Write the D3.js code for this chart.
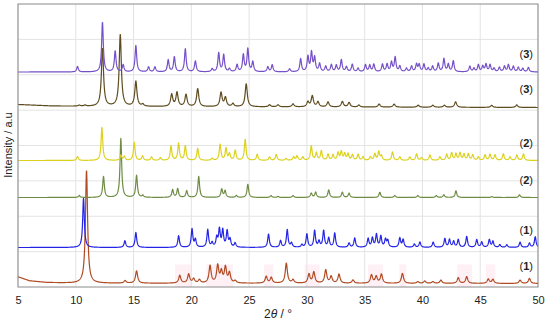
<!DOCTYPE html>
<html>
<head>
<meta charset="utf-8">
<script src="https://cdn.jsdelivr.net/npm/d3@7"></script>
<style>
  body { margin: 0; background: #fff; }
  text { font-family: "Liberation Sans", Arial, sans-serif; fill: #222; }
</style>
</head>
<body>
<div id="chart"></div>
<script>
// 2theta range and tick labels
var xTicks = [5, 10, 15, 20, 25, 30, 35, 40, 45, 50];
var yMax = 2830;   // arbitrary intensity units

// sample names, bottom to top
var names = ["1", "1", "2", "2", "3", "3"];
// vertical offset of each pattern (a.u.)
var offsets = [35, 395, 895, 1265, 1805, 2150];

// peak lists [2theta, intensity]
var peaks1exp = [[10.93,1130],[14.27,25],[15.26,123],[19.0,77],[19.77,90],[20.2,43],[20.7,33],[21.62,173],[22.28,173],[22.6,110],[22.95,156],[23.3,100],[23.8,23],[26.48,67],[26.92,57],[28.22,200],[28.8,33],[30.18,90],[30.6,110],[31.63,133],[32.1,67],[32.78,90],[33.99,33],[35.59,83],[36.0,67],[36.45,90],[38.27,100],[39.6,17],[40.2,23],[40.9,17],[41.6,33],[43.1,57],[43.83,67],[45.7,43],[46.1,40],[48.45,33],[49.26,50]];
var peaks1calc = [[10.67,495],[14.25,67],[15.2,150],[18.9,117],[20.06,183],[20.35,77],[21.42,177],[21.8,43],[22.2,93],[22.43,177],[22.72,167],[23.1,160],[23.35,77],[23.79,43],[26.68,133],[27.72,67],[28.3,177],[28.67,43],[29.57,27],[30.0,133],[30.67,167],[31.05,60],[31.45,167],[31.89,93],[32.41,143],[33.65,43],[34.14,93],[35.3,87],[35.67,93],[36.02,127],[36.4,110],[36.8,77],[37.0,67],[38.04,93],[38.33,77],[39.3,33],[39.78,53],[40.93,53],[41.94,87],[42.34,77],[42.7,60],[43.1,77],[43.83,110],[44.7,77],[45.13,53],[45.79,77],[46.1,60],[46.7,27],[47.3,27],[48.45,53],[49.26,43],[49.76,107]];
var peaks2exp = [[10.3,20],[12.4,210],[13.9,590],[15.26,220],[15.8,20],[18.38,77],[18.82,87],[19.6,67],[20.64,210],[22.63,83],[22.92,67],[23.9,20],[24.89,133],[26.9,20],[27.5,10],[28.8,20],[30.38,43],[30.76,53],[31.89,77],[33.07,53],[33.65,43],[36.31,53],[37.6,20],[39.6,20],[41.2,20],[41.85,27],[42.9,67],[46.0,10],[48.4,27]];
var peaks2calc = [[10.15,40],[12.26,330],[13.9,50],[14.2,40],[15.06,180],[15.78,45],[16.56,35],[17.32,27],[18.24,145],[18.9,170],[19.48,145],[20.55,120],[21.8,20],[22.49,160],[23.0,120],[23.3,65],[23.8,100],[24.66,210],[25.7,60],[26.77,35],[27.35,60],[28.2,20],[28.85,35],[29.15,45],[29.65,35],[30.38,145],[30.82,75],[31.25,95],[31.83,60],[32.26,55],[32.7,75],[32.98,85],[33.27,65],[33.56,65],[33.94,55],[34.43,60],[34.86,35],[35.5,35],[35.88,65],[36.22,85],[36.45,45],[37.41,85],[38.04,35],[38.91,35],[39.49,65],[39.93,27],[40.65,55],[41.51,35],[42.1,60],[42.53,75],[42.9,65],[43.25,75],[43.6,60],[43.97,65],[44.35,55],[44.84,35],[45.42,55],[45.85,60],[46.28,55],[47.0,65],[47.58,35],[48.17,55],[48.74,65]];
var peaks3exp = [[10.3,10],[10.8,10],[12.31,580],[13.85,720],[15.2,250],[15.8,20],[18.3,120],[18.76,140],[19.54,120],[20.55,180],[22.57,140],[22.95,90],[23.6,30],[24.75,230],[26.77,20],[27.5,20],[28.8,30],[30.09,50],[30.47,110],[30.96,50],[31.83,50],[33.07,55],[33.65,45],[34.5,20],[36.25,30],[37.55,30],[39.63,20],[40.9,20],[41.9,20],[42.87,55],[45.99,20],[48.16,25]];
var peaks3calc = [[10.15,55],[12.31,500],[13.41,210],[14.1,70],[15.2,265],[16.3,50],[16.85,50],[18.0,120],[18.53,150],[19.48,230],[20.35,110],[21.8,30],[22.37,190],[22.8,170],[23.3,30],[23.96,70],[24.5,170],[24.89,230],[25.32,100],[26.62,50],[27.0,70],[28.5,30],[29.46,130],[30.09,150],[30.4,190],[30.67,140],[31.1,80],[31.63,55],[32.12,70],[32.55,65],[32.98,120],[33.42,50],[33.93,75],[34.43,35],[35.07,70],[35.44,65],[35.79,75],[36.54,75],[36.94,75],[37.32,95],[37.64,145],[38.04,55],[38.62,35],[39.06,55],[39.49,75],[39.72,70],[40.13,75],[40.5,35],[40.88,55],[41.37,85],[41.86,130],[42.24,75],[42.67,110],[44.1,55],[44.46,35],[44.84,70],[45.22,55],[45.5,75],[45.85,70],[46.2,35],[46.66,45],[47.1,55],[47.44,70],[47.87,55],[48.3,45],[48.69,35],[49.17,45]];
var peakLists = [peaks1exp, peaks1calc, peaks2exp, peaks2calc, peaks3exp, peaks3calc];

// background points [2theta, intensity] under each pattern
var bg1exp = [[5,67],[6,27],[7.5,10],[10,3],[50,0]];
var bg3exp = [[5,20],[8,5],[12,0],[50,-10]];
var flatBg = [[5,0],[50,0]];
var backgrounds = [bg1exp, flatBg, flatBg, flatBg, bg3exp, flatBg];

// faint pink highlighted 2theta ranges behind pattern (1)
var pinkRanges = [[18.6,20.0],[21.3,23.6],[26.3,27.1],[29.8,31.1],[35.3,36.6],[38.0,38.6],[43.0,44.3],[45.5,46.3]];

// styles
var colors = ["#b04a22", "#2424e6", "#6f8c45", "#dcd21e", "#5e4c1f", "#7550c8"];
var halfWidth = [0.11, 0.085, 0.085, 0.085, 0.11, 0.085];

var margin = { top: 4, right: 12, bottom: 38, left: 18 },
    width = 550 - margin.left - margin.right,
    height = 325 - margin.top - margin.bottom;

var x = d3.scaleLinear().domain([5, 50]).range([0, width]);
var y = d3.scaleLinear().domain([0, yMax]).range([height, 0]);

var svg = d3.select("#chart").append("svg")
    .attr("width", 550)
    .attr("height", 325)
    .append("g")
    .attr("transform", "translate(" + margin.left + "," + margin.top + ")");

// pink ranges
svg.append("g").selectAll("rect")
    .data(pinkRanges)
    .enter().append("rect")
    .attr("x", function(d) { return x(d[0]); })
    .attr("width", function(d) { return x(d[1]) - x(d[0]); })
    .attr("y", y(offsets[0] + 190))
    .attr("height", y(0) - y(offsets[0] + 190))
    .attr("fill", "#fff0f6");

// grid
svg.append("g").selectAll("line")
    .data(xTicks)
    .enter().append("line")
    .attr("x1", function(d) { return x(d); })
    .attr("x2", function(d) { return x(d); })
    .attr("y1", 0).attr("y2", height)
    .attr("stroke", "#e3e3e3");

svg.append("g").selectAll("line")
    .data(d3.range(1, 8).map(function(i) { return i * yMax / 8; }))
    .enter().append("line")
    .attr("y1", function(d) { return y(d); })
    .attr("y2", function(d) { return y(d); })
    .attr("x1", 0).attr("x2", width)
    .attr("stroke", "#e3e3e3");

// build each pattern as a sum of peaks
var grid = d3.range(5, 50.0001, 0.02);
function pattern(peaks, w, bg, off) {
    var base = d3.scaleLinear()
        .domain(bg.map(function(d) { return d[0]; }))
        .range(bg.map(function(d) { return d[1]; }));
    return grid.map(function(t) {
        var v = off + base(t);
        peaks.forEach(function(p) {
            var u = (t - p[0]) / w;
            v += p[1] / (1 + u * u);
        });
        return [t, v];
    });
}

var line = d3.line()
    .x(function(d) { return x(d[0]); })
    .y(function(d) { return y(d[1]); });

svg.append("g").selectAll("path")
    .data(peakLists)
    .enter().append("path")
    .attr("d", function(d, i) { return line(pattern(d, halfWidth[i], backgrounds[i], offsets[i])); })
    .attr("fill", "none")
    .attr("stroke", function(d, i) { return colors[i]; })
    .attr("stroke-width", 1.2)
    .attr("stroke-linejoin", "round");

// sample labels on the right
var labels = svg.append("g").selectAll("text")
    .data(names)
    .enter().append("text")
    .attr("x", width - 5)
    .attr("y", function(d, i) { return y(offsets[i]) - 14; })
    .style("font-size", "11px")
    .style("text-anchor", "end");
labels.append("tspan").text("(");
labels.append("tspan").style("font-weight", "bold").text(function(d) { return d; });
labels.append("tspan").text(")");

// frame
svg.append("rect")
    .attr("width", width).attr("height", height)
    .attr("fill", "none")
    .attr("stroke", "#8a8a8a");

// x axis labels
svg.append("g")
    .attr("transform", "translate(0," + height + ")")
    .call(d3.axisBottom(x).tickValues(xTicks).tickSize(0).tickPadding(9).tickFormat(d3.format("d")))
    .call(function(g) { g.select(".domain").remove(); })
    .selectAll("text")
    .style("font-size", "11px")
    .style("font-family", "'Liberation Sans', Arial, sans-serif")
    .attr("fill", "#222");

// axis titles
var xt = svg.append("text")
    .attr("x", x(27.5))
    .attr("y", height + 31)
    .style("font-size", "12px")
    .style("text-anchor", "middle");
xt.append("tspan").text("2");
xt.append("tspan").style("font-style", "italic").text("θ");
xt.append("tspan").text(" / °");

svg.append("text")
    .attr("transform", "rotate(-90)")
    .attr("x", -141)
    .attr("y", -6)
    .style("font-size", "11px")
    .style("text-anchor", "middle")
    .text("Intensity / a.u");
</script>
</body>
</html>
